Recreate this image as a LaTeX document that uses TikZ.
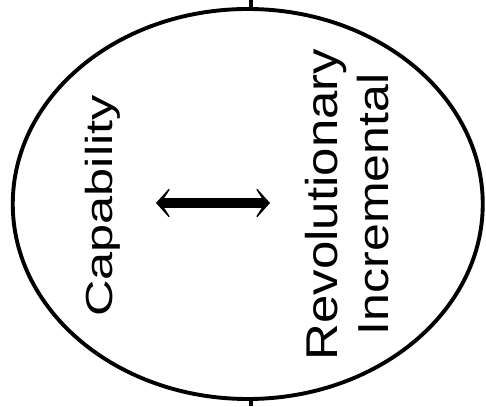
\documentclass[tikz,border=0pt]{standalone}
\usepackage{fontspec}
\setmainfont{Liberation Sans}
\usetikzlibrary{shapes.geometric,arrows.meta}
\tikzset{
  oval/.style={ellipse,draw=black,line width=3.9pt,minimum width=470pt,minimum height=390pt,inner sep=0pt},
  vlabel/.style={rotate=90,anchor=base,inner sep=0pt,text=black},
  stub/.style={line width=4pt,draw=black},
  dblarrow/.style={line width=10pt,{Stealth[length=18pt,width=40pt,inset=13pt]}-{Stealth[length=18pt,width=40pt,inset=13pt]}}
}
\begin{document}
\begin{tikzpicture}[x=1pt,y=1pt]
\useasboundingbox (0,0) rectangle (486,406);
\node[oval] (oval) at (247.75,202) {};
\node[vlabel,font=\fontsize{37.7}{40}\selectfont] (cap) at (112,200) {\scalebox{1.34}[1]{Capability}};
\node[vlabel,font=\fontsize{44.5}{48}\selectfont] (rev) at (337,201.5) {\scalebox{1.145}[1]{Revolutionary}};
\node[vlabel,font=\fontsize{43.3}{48}\selectfont] (inc) at (388,201.5) {\scalebox{1.155}[1]{Incremental}};
\coordinate (al) at (156,203);
\coordinate (ar) at (270,203);
\draw[dblarrow] (al) -- (ar);
\coordinate (topend) at (251,406);
\coordinate (botend) at (251,0);
\draw[stub] (oval.north -| topend) -- (topend);
\draw[stub] (oval.south -| botend) -- (botend);
\end{tikzpicture}
\end{document}
